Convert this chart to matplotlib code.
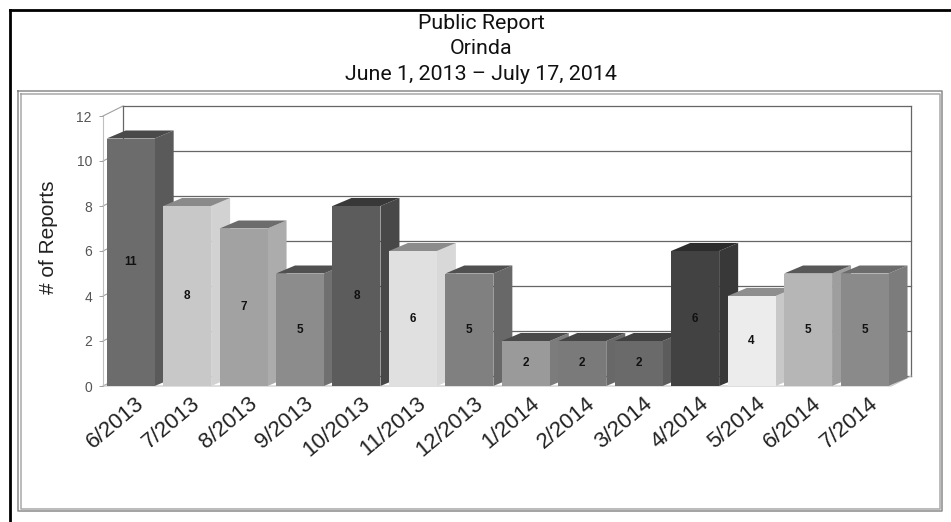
import matplotlib
matplotlib.use('Agg')
import matplotlib.pyplot as plt
from matplotlib.lines import Line2D
from matplotlib.patches import Polygon
from matplotlib.transforms import ScaledTranslation

months = ['6/2013', '7/2013', '8/2013', '9/2013', '10/2013', '11/2013', '12/2013',
          '1/2014', '2/2014', '3/2014', '4/2014', '5/2014', '6/2014', '7/2014']
reports = [11, 8, 7, 5, 8, 6, 5, 2, 2, 2, 6, 4, 5, 5]
y_ticks = [0, 2, 4, 6, 8, 10, 12]
title_lines = ['Public Report', 'Orinda', 'June 1, 2013 – July 17, 2014']

front_col = ['#6c6c6c', '#c8c8c8', '#a2a2a2', '#8c8c8c', '#5c5c5c', '#e0e0e0', '#808080',
             '#9a9a9a', '#7a7a7a', '#6a6a6a', '#424242', '#ececec', '#b6b6b6', '#8a8a8a']
top_col = ['#4a4a4a', '#8a8a8a', '#6c6c6c', '#505050', '#383838', '#8c8c8c', '#505050',
           '#4a4a4a', '#454545', '#404040', '#2c2c2c', '#8e8e8e', '#585858', '#6c6c6c']
side_col = ['#5a5a5a', '#d2d2d2', '#acacac', '#707070', '#484848', '#d8d8d8', '#686868',
            '#7c7c7c', '#686868', '#5c5c5c', '#383838', '#c8c8c8', '#9e9e9e', '#7c7c7c']

W, H = 951, 522
X_UNIT = 56.45   # px per category
Y_UNIT = 22.5    # px per report
bar_w = 48 / X_UNIT
wall_dx, wall_dy = 20 / X_UNIT, 10 / Y_UNIT
bar_dx, bar_dy = 19 / X_UNIT, 8 / Y_UNIT

fig = plt.figure(figsize=(W / 100, H / 100), dpi=100, facecolor='white')
x0 = -0.49
x1 = 13.47
left_px = 103
ax = fig.add_axes([left_px / W, (H - 386) / H, (x1 - x0) * X_UNIT / W, 12 * Y_UNIT / H])
ax.set_xlim(x0, x1)
ax.set_ylim(0, 12)
ax.patch.set_visible(False)
for s in ax.spines.values():
    s.set_visible(False)


def frame_line(xs, ys, **kw):
    fig.add_artist(Line2D([x / W for x in xs], [1 - y / H for y in ys], **kw))


# black page border, only top and left
frame_line([9.5, 9.5], [9.5, H], color='black', lw=2)
frame_line([9.5, W], [9.5, 9.5], color='black', lw=2)

# double grey frame round the chart
for d, c in [(0, '#8a8a8a'), (2.5, '#a8a8a8')]:
    frame_line([18 + d, 942 - d, 942 - d, 18 + d, 18 + d],
               [91 + d, 91 + d, 511 - d, 511 - d, 91 + d], color=c, lw=1.1)

for line, y_px in zip(title_lines, [24, 49, 75]):
    fig.text(481 / W, 1 - y_px / H, line, ha='center', va='center',
             fontsize=15.4, family='Roboto', color='#111111')

# walls and grid
for v in y_ticks:
    ax.plot([x0, x0 + wall_dx], [v, v + wall_dy], color='#a0a0a0', lw=0.8, clip_on=False, zorder=1)
    ax.plot([x0 + wall_dx, x1 + wall_dx], [v + wall_dy, v + wall_dy], color='#666666', lw=0.9,
            clip_on=False, zorder=1)
ax.plot([x0 + wall_dx] * 2, [wall_dy, 12 + wall_dy], color='#666666', lw=0.9, clip_on=False, zorder=1)
ax.plot([x1 + wall_dx] * 2, [wall_dy, 12 + wall_dy], color='#666666', lw=0.9, clip_on=False, zorder=1)
ax.plot([x0, x0], [0, 12], color='#c0c0c0', lw=0.8, clip_on=False, zorder=1)
ax.plot([x0, x1, x1 + wall_dx], [0, 0, wall_dy], color='#c4c4c4', lw=0.8, clip_on=False, zorder=1)

# bars, left to right so each one hides the side of the previous
for i, val in enumerate(reports):
    l = i - bar_w / 2
    r = i + bar_w / 2
    z = 2 + i
    ax.add_patch(Polygon([(r, 0), (r + bar_dx, bar_dy), (r + bar_dx, val + bar_dy), (r, val)],
                         fc=side_col[i], ec='none', zorder=z, clip_on=False))
    ax.add_patch(Polygon([(l, val), (r, val), (r + bar_dx, val + bar_dy), (l + bar_dx, val + bar_dy)],
                         fc=top_col[i], ec='none', zorder=z, clip_on=False))
    ax.add_patch(Polygon([(l, 0), (r, 0), (r, val), (l, val)],
                         fc=front_col[i], ec='none', zorder=z, clip_on=False))
    ax.text(i, val / 2, str(val), ha='center', va='center', fontsize=8.5, fontweight='bold',
            family='Liberation Sans', color='#111111', zorder=30)

ax.set_yticks(y_ticks)
ax.set_yticklabels([str(v) for v in y_ticks], family='Liberation Sans', fontsize=10, color='#555555')
ax.tick_params(axis='y', length=3, width=0.7, color='#a0a0a0', pad=5)

ax.set_xticks(range(len(months)))
ax.set_xticklabels(months, rotation=40, ha='right', rotation_mode='anchor',
                   family='Liberation Sans', fontsize=16, color='#222222')
ax.tick_params(axis='x', length=0, pad=5)
shift = ScaledTranslation(4 / 100, 0, fig.dpi_scale_trans)
for lab in ax.get_xticklabels():
    lab.set_transform(lab.get_transform() + shift)

fig.text(48 / W, 1 - 237 / H, '# of Reports', rotation=90, ha='center', va='center',
         family='Liberation Sans', fontsize=15, color='#222222')

fig.savefig('out.png', dpi=100)
